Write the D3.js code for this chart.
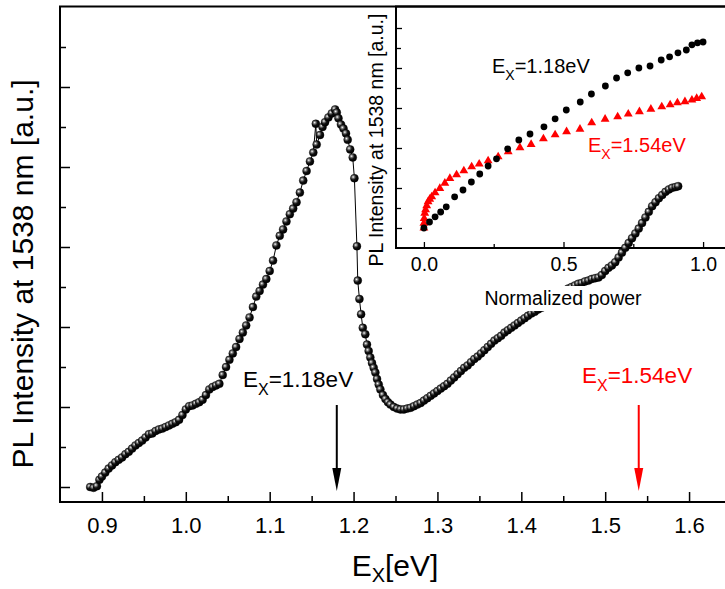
<!DOCTYPE html>
<html lang="en">
<head>
<meta charset="UTF-8">
<title>PL excitation</title>
<script src="https://cdnjs.cloudflare.com/ajax/libs/d3/7.8.5/d3.min.js"></script>
<style>
    body { margin: 0; background: #fff; }
    svg text { font-family: "Liberation Sans", Arial, sans-serif; }
    .axis path, .axis line { stroke: #000; }
</style>
</head>
<body>
<div id="chart"></div>
<script>
// main curve: excitation energy (eV) vs PL intensity (a.u.)
var mainX = [0.886,0.890,0.894,0.897,0.900,0.904,0.908,0.912,0.916,0.920,0.924,0.928,0.932,0.936,0.940,0.944,0.948,0.952,0.956,0.960,
    0.964,0.968,0.972,0.976,0.980,0.984,0.988,0.992,0.996,1.000,1.004,1.008,1.012,1.016,1.020,1.024,1.028,1.032,1.036,1.040,
    1.044,1.048,1.052,1.056,1.060,1.064,1.068,1.072,1.076,1.080,1.084,1.088,1.092,1.096,1.100,1.104,1.108,1.112,1.116,1.120,
    1.124,1.128,1.132,1.136,1.140,1.144,1.148,1.152,1.155,1.156,1.160,1.163,1.166,1.170,1.174,1.178,1.180,1.182,1.185,1.188,
    1.191,1.193,1.196,1.199,1.201,1.204,1.205,1.207,1.209,1.211,1.214,1.216,1.218,1.220,1.222,1.224,1.226,1.228,1.230,1.232,
    1.235,1.238,1.241,1.244,1.248,1.252,1.256,1.260,1.264,1.268,1.272,1.276,1.280,1.284,1.288,1.292,1.296,1.300,1.304,1.308,
    1.312,1.316,1.320,1.324,1.328,1.332,1.336,1.340,1.344,1.348,1.352,1.356,1.360,1.364,1.368,1.372,1.376,1.380,1.384,1.388,
    1.392,1.396,1.400,1.404,1.408,1.412,1.416,1.420,1.424,1.428,1.432,1.436,1.440,1.444,1.448,1.452,1.456,1.460,1.464,1.468,
    1.472,1.476,1.480,1.484,1.488,1.492,1.496,1.500,1.504,1.508,1.512,1.516,1.520,1.524,1.528,1.532,1.536,1.540,1.544,1.548,
    1.552,1.556,1.560,1.564,1.568,1.572,1.576,1.580,1.584,1.587];
var mainY = [0.00,-0.01,0.01,0.09,0.13,0.18,0.23,0.27,0.31,0.34,0.37,0.41,0.44,0.48,0.52,0.55,0.58,0.62,0.66,0.67,
    0.70,0.72,0.73,0.75,0.77,0.79,0.81,0.84,0.90,0.97,1.01,1.02,1.04,1.06,1.09,1.15,1.22,1.25,1.27,1.29,
    1.40,1.50,1.59,1.67,1.75,1.85,1.93,2.02,2.12,2.25,2.38,2.45,2.53,2.60,2.70,2.83,3.02,3.14,3.22,3.32,
    3.41,3.48,3.56,3.68,3.83,3.95,4.07,4.18,4.54,4.28,4.40,4.50,4.56,4.62,4.67,4.72,4.68,4.61,4.53,4.48,
    4.42,4.34,4.22,4.12,3.86,3.01,2.58,2.35,2.16,1.99,1.91,1.78,1.70,1.62,1.55,1.49,1.43,1.35,1.28,1.22,
    1.15,1.10,1.06,1.03,1.00,0.98,0.97,0.97,0.98,0.99,1.01,1.03,1.05,1.08,1.11,1.14,1.17,1.20,1.23,1.26,
    1.29,1.33,1.37,1.41,1.45,1.49,1.52,1.56,1.60,1.63,1.67,1.71,1.75,1.79,1.83,1.86,1.89,1.93,1.96,1.99,
    2.02,2.05,2.08,2.11,2.14,2.17,2.19,2.22,2.24,2.27,2.30,2.34,2.37,2.40,2.43,2.46,2.48,2.50,2.52,2.54,
    2.55,2.57,2.58,2.60,2.61,2.62,2.65,2.70,2.74,2.77,2.81,2.87,2.93,2.99,3.05,3.11,3.17,3.23,3.30,3.37,
    3.44,3.51,3.56,3.61,3.65,3.69,3.72,3.74,3.75,3.76];

// inset: normalized power vs PL intensity
var blackP = [0.00,0.02,0.04,0.06,0.08,0.11,0.14,0.17,0.20,0.23,0.26,0.30,0.34,0.38,0.43,0.47,0.51,0.56,0.60,0.65,
    0.69,0.73,0.77,0.81,0.85,0.88,0.91,0.94,0.96,0.98,1.00];
var blackI = [0.00,0.15,0.28,0.40,0.53,0.78,0.95,1.15,1.35,1.55,1.73,1.98,2.20,2.35,2.53,2.73,2.95,3.15,3.35,3.55,
    3.75,3.88,4.00,4.05,4.20,4.28,4.38,4.45,4.58,4.63,4.65];
var redP = [0.000,0.000,0.001,0.003,0.006,0.010,0.015,0.021,0.028,0.040,0.057,0.075,0.093,0.117,0.143,0.171,0.198,0.230,
    0.266,0.302,0.344,0.384,0.428,0.470,0.511,0.559,0.601,0.649,0.694,0.732,0.772,0.813,0.852,0.882,0.908,0.935,0.960,0.977,0.995];
var redI = [0.00,0.12,0.24,0.37,0.46,0.56,0.66,0.72,0.78,0.88,0.99,1.12,1.24,1.33,1.43,1.53,1.60,1.68,
    1.78,1.91,2.01,2.09,2.23,2.33,2.41,2.47,2.63,2.72,2.78,2.85,2.91,2.97,3.03,3.08,3.13,3.16,3.20,3.24,3.28];

var xMajor = [0.9, 1.0, 1.1, 1.2, 1.3, 1.4, 1.5, 1.6];
var xMinor = [0.95, 1.05, 1.15, 1.25, 1.35, 1.45, 1.55];
var yMajor = [0, 1, 2, 3, 4, 5];
var yMinor = [0.5, 1.5, 2.5, 3.5, 4.5, 5.5];
var ixMajor = [0.0, 0.5, 1.0];
var ixMinor = [0.25, 0.75];
var iyMajor = [0, 1, 2, 3, 4, 5];
var iyMinor = [0.5, 1.5, 2.5, 3.5, 4.5];
var arrows = [{ e: 1.18, color: "#000", label: "=1.18eV", lx: 243, ly: 387 },
              { e: 1.54, color: "#ff0000", label: "=1.54eV", lx: 582, ly: 383 }];

var W = 725, H = 589;
var svg = d3.select("#chart").append("svg").attr("width", W).attr("height", H);

var defs = svg.append("defs");
var grad = defs.append("radialGradient").attr("id", "ball")
    .attr("cx", "35%").attr("cy", "35%").attr("r", "65%");
grad.append("stop").attr("offset", "0%").attr("stop-color", "#fff");
grad.append("stop").attr("offset", "25%").attr("stop-color", "#777");
grad.append("stop").attr("offset", "55%").attr("stop-color", "#111");
grad.append("stop").attr("offset", "100%").attr("stop-color", "#000");

var x = d3.scaleLinear().domain([0.85, 1.65]).range([60, 731]);
var y = d3.scaleLinear().domain([-0.1875, 6]).range([502, 7]);

// main axes
function noDomain(g) { g.select(".domain").remove(); }
svg.append("g").attr("class", "axis").attr("transform", "translate(0,502)")
    .call(d3.axisBottom(x).tickValues(xMajor).tickFormat(d3.format(".1f")).tickSizeInner(-10).tickSizeOuter(0).tickPadding(15))
    .call(noDomain)
    .call(function (g) {
        g.selectAll("line").attr("stroke-width", 1.5);
        g.selectAll("text").attr("font-size", 22).attr("fill", "#000")
            .attr("font-family", "'Liberation Sans', Arial, sans-serif");
    });
svg.append("g").attr("class", "axis").attr("transform", "translate(0,502)")
    .call(d3.axisBottom(x).tickValues(xMinor).tickFormat("").tickSizeInner(-6).tickSizeOuter(0))
    .call(noDomain)
    .call(function (g) { g.selectAll("line").attr("stroke-width", 1.5); });
svg.append("g").attr("class", "axis").attr("transform", "translate(60,0)")
    .call(d3.axisLeft(y).tickValues(yMajor).tickFormat("").tickSizeInner(-10).tickSizeOuter(0))
    .call(noDomain)
    .call(function (g) { g.selectAll("line").attr("stroke-width", 1.5); });
svg.append("g").attr("class", "axis").attr("transform", "translate(60,0)")
    .call(d3.axisLeft(y).tickValues(yMinor).tickFormat("").tickSizeInner(-6).tickSizeOuter(0))
    .call(noDomain)
    .call(function (g) { g.selectAll("line").attr("stroke-width", 1.5); });

svg.append("rect").attr("x", 60).attr("y", 6.5).attr("width", 671).attr("height", 495.5)
    .attr("fill", "none").attr("stroke", "#000").attr("stroke-width", 2);

// axis titles
var xt = svg.append("text").attr("x", 395).attr("y", 576).attr("text-anchor", "middle")
    .attr("font-size", 30).attr("fill", "#000");
xt.append("tspan").text("E");
xt.append("tspan").attr("font-size", 20).attr("dy", 6).text("X");
xt.append("tspan").attr("dy", -6).text("[eV]");

svg.append("text").attr("transform", "translate(33,274) rotate(-90)")
    .attr("text-anchor", "middle").attr("font-size", 30).attr("fill", "#000")
    .text("PL Intensity at 1538 nm [a.u.]");

// arrows
arrows.forEach(function (a) {
    var ax = x(a.e);
    svg.append("line").attr("x1", ax).attr("x2", ax).attr("y1", 405).attr("y2", 472)
        .attr("stroke", a.color).attr("stroke-width", 2);
    svg.append("path").attr("d", "M" + (ax - 4.5) + ",468L" + (ax + 4.5) + ",468L" + ax + ",491Z")
        .attr("fill", a.color);
    var t = svg.append("text").attr("x", a.lx).attr("y", a.ly).attr("font-size", 22.5).attr("fill", a.color);
    t.append("tspan").text("E");
    t.append("tspan").attr("font-size", 16).attr("dy", 8).text("X");
    t.append("tspan").attr("dy", -8).text(a.label);
});

// inset
var xi = d3.scaleLinear().domain([-0.1, 1.1]).range([396, 731]);
var yi = d3.scaleLinear().domain([-0.5, 5.55]).range([248, 6]);

svg.append("g").attr("class", "axis").attr("transform", "translate(0,248)")
    .call(d3.axisBottom(xi).tickValues(ixMajor).tickFormat(d3.format(".1f")).tickSizeInner(-6).tickSizeOuter(0).tickPadding(9))
    .call(noDomain)
    .call(function (g) {
        g.selectAll("line").attr("stroke-width", 1.3);
        g.selectAll("text").attr("font-size", 19.5).attr("fill", "#000")
            .attr("font-family", "'Liberation Sans', Arial, sans-serif");
    });
svg.append("g").attr("class", "axis").attr("transform", "translate(0,248)")
    .call(d3.axisBottom(xi).tickValues(ixMinor).tickFormat("").tickSizeInner(-4).tickSizeOuter(0))
    .call(noDomain)
    .call(function (g) { g.selectAll("line").attr("stroke-width", 1.3); });
svg.append("g").attr("class", "axis").attr("transform", "translate(396,0)")
    .call(d3.axisLeft(yi).tickValues(iyMajor).tickFormat("").tickSizeInner(-6).tickSizeOuter(0))
    .call(noDomain)
    .call(function (g) { g.selectAll("line").attr("stroke-width", 1.3); });
svg.append("g").attr("class", "axis").attr("transform", "translate(396,0)")
    .call(d3.axisLeft(yi).tickValues(iyMinor).tickFormat("").tickSizeInner(-5).tickSizeOuter(0))
    .call(noDomain)
    .call(function (g) { g.selectAll("line").attr("stroke-width", 1.3); });

svg.append("rect").attr("x", 396).attr("y", 6.5).attr("width", 335).attr("height", 241.5)
    .attr("fill", "none").attr("stroke", "#000").attr("stroke-width", 2);

svg.append("text").attr("transform", "translate(383,140) rotate(-90)")
    .attr("text-anchor", "middle").attr("font-size", 19.5).attr("fill", "#000")
    .text("PL Intensity at 1538 nm [a.u.]");

var il1 = svg.append("text").attr("x", 492).attr("y", 73).attr("font-size", 20).attr("fill", "#000");
il1.append("tspan").text("E");
il1.append("tspan").attr("font-size", 14).attr("dy", 7).text("X");
il1.append("tspan").attr("dy", -7).text("=1.18eV");
var il2 = svg.append("text").attr("x", 588).attr("y", 152).attr("font-size", 20).attr("fill", "#ff0000");
il2.append("tspan").text("E");
il2.append("tspan").attr("font-size", 14).attr("dy", 7).text("X");
il2.append("tspan").attr("dy", -7).text("=1.54eV");

var redData = redP.map(function (p, i) { return { p: p, v: redI[i] }; });
var blackData = blackP.map(function (p, i) { return { p: p, v: blackI[i] }; });

svg.append("g").selectAll("path").data(redData).enter().append("path")
    .attr("d", d3.symbol().type(d3.symbolTriangle).size(34))
    .attr("transform", function (d) { return "translate(" + xi(d.p) + "," + yi(d.v) + ")"; })
    .attr("fill", "#ff0000");
svg.append("g").selectAll("circle").data(blackData).enter().append("circle")
    .attr("cx", function (d) { return xi(d.p); })
    .attr("cy", function (d) { return yi(d.v); })
    .attr("r", 3.4).attr("fill", "#000");

// main curve on top
var mainData = mainX.map(function (e, i) { return { e: e, v: mainY[i] }; });
svg.append("path").datum(mainData)
    .attr("fill", "none").attr("stroke", "#000").attr("stroke-width", 1)
    .attr("d", d3.line().x(function (d) { return x(d.e); }).y(function (d) { return y(d.v); }));
svg.append("g").selectAll("circle").data(mainData).enter().append("circle")
    .attr("cx", function (d) { return x(d.e); })
    .attr("cy", function (d) { return y(d.v); })
    .attr("r", 4).attr("fill", "url(#ball)").attr("stroke", "#000").attr("stroke-width", 0.4);

// inset x title sits on a white box
var np = svg.append("text").attr("x", 563).attr("y", 305).attr("text-anchor", "middle")
    .attr("font-size", 19.5).attr("fill", "#000").text("Normalized power");
var bb = np.node().getBBox();
svg.insert("rect", function () { return np.node(); })
    .attr("x", bb.x - 2).attr("y", bb.y - 1).attr("width", bb.width + 4).attr("height", bb.height + 3)
    .attr("fill", "#fff");
</script>
</body>
</html>
